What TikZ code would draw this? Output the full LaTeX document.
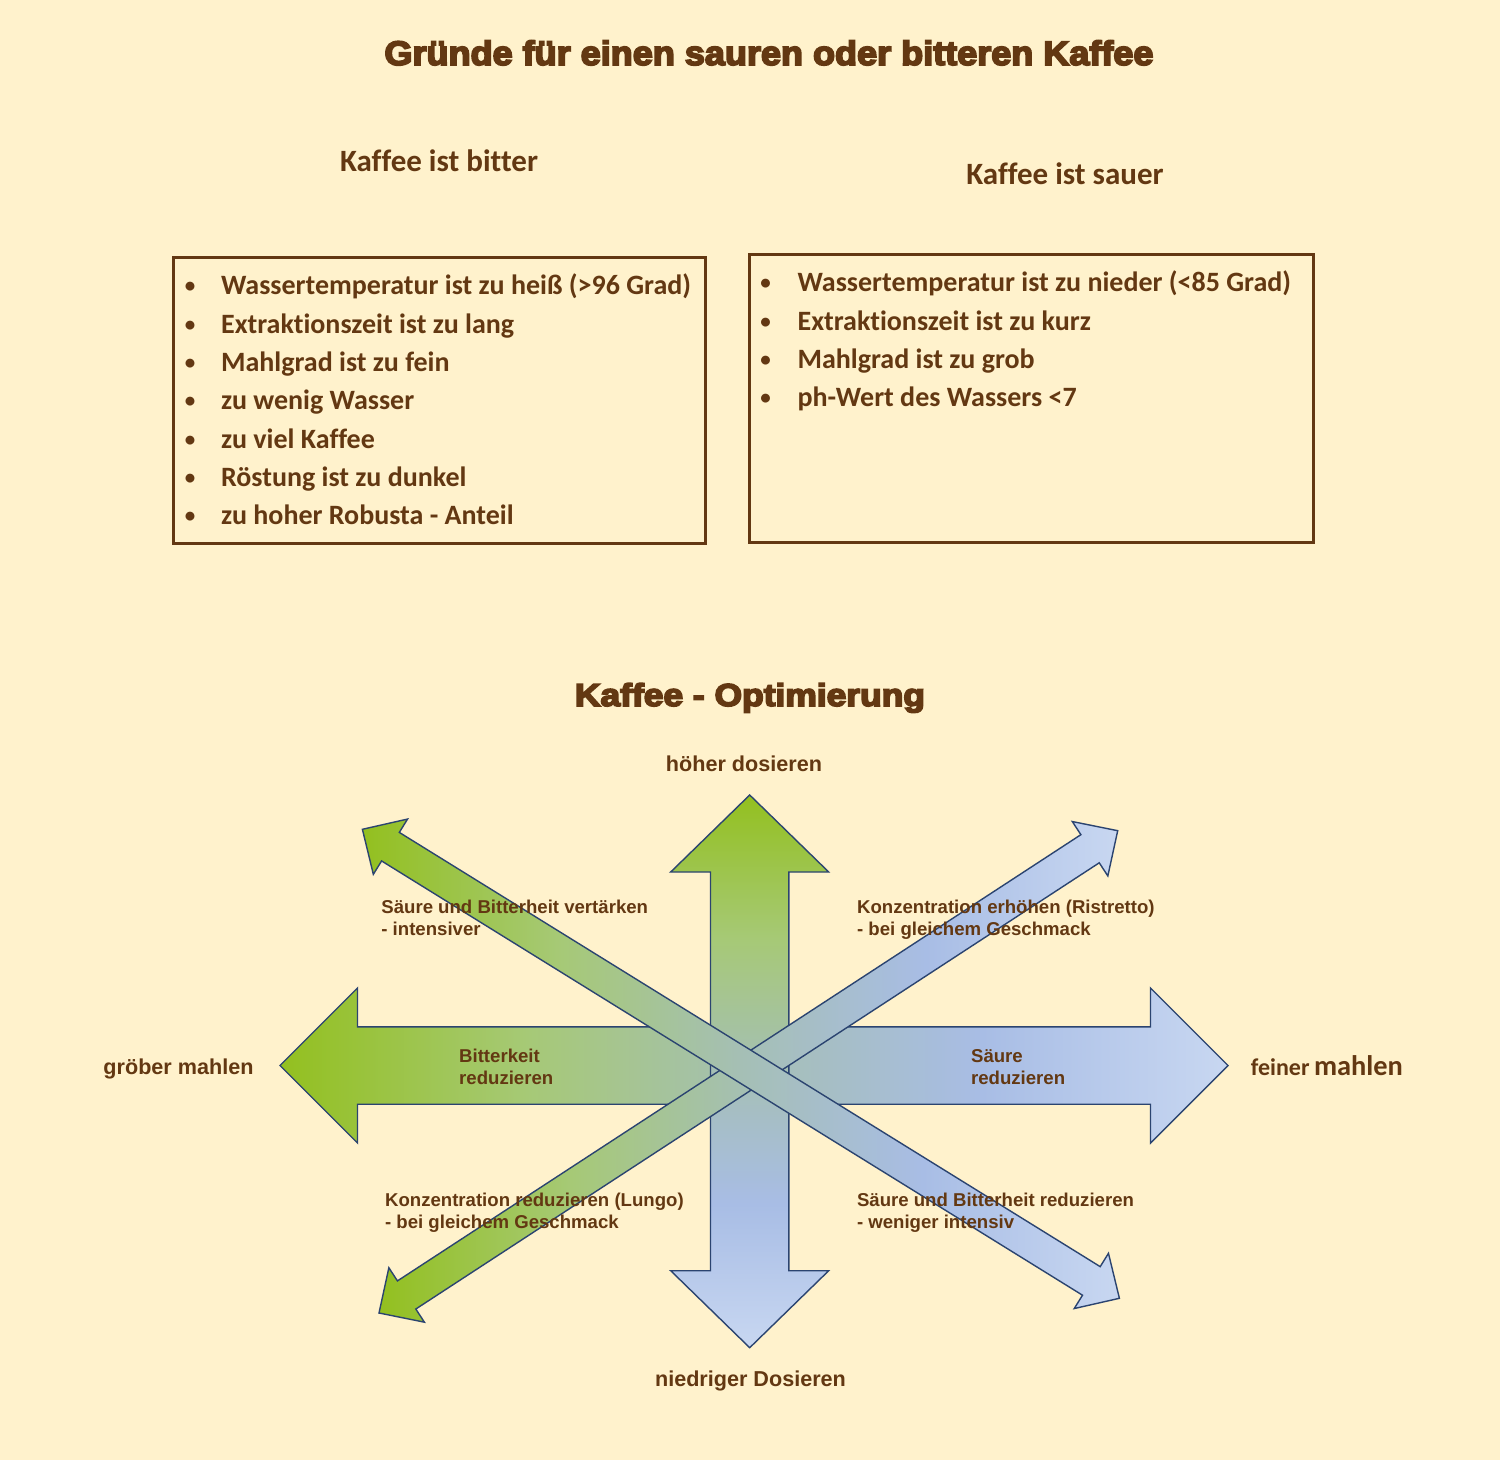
\documentclass[tikz,border=0pt]{standalone}
\usepackage{fontspec}
\setmainfont{Liberation Sans}
\newfontfamily\carl{Carlito}[Ligatures=NoCommon]
\newfontfamily\heavy{Liberation Sans}[BoldFeatures={FakeBold=5}]
\usetikzlibrary{calc}
\definecolor{bg}{HTML}{FFF2CC}
\definecolor{brn}{RGB}{99,56,18}
\definecolor{gA}{HTML}{93C01F}
\definecolor{gB}{HTML}{A6C976}
\definecolor{midc}{HTML}{A5BFB5}
\definecolor{bA}{HTML}{A8BDE5}
\definecolor{bB}{HTML}{C8D7F1}
\definecolor{edgec}{HTML}{2B4470}
\pgfdeclarehorizontalshading{hgrad}{100bp}{color(0bp)=(gA); color(25bp)=(gA); color(38bp)=(gB); color(50bp)=(midc); color(62bp)=(bA); color(75bp)=(bB); color(100bp)=(bB)}
\pgfdeclareverticalshading{vgrad}{100bp}{color(0bp)=(bB); color(25bp)=(bB); color(38bp)=(bA); color(50bp)=(midc); color(62bp)=(gB); color(75bp)=(gA); color(100bp)=(gA)}
% #1 tip A, #2 tip B, #3 head length, #4 head half width, #5 shaft half width, #6 shading
\newcommand{\dblarrow}[6]{%
  \path coordinate (a1) at ($(#1)!#3!(#2)$) coordinate (b1) at ($(#2)!#3!(#1)$);
  \path[arrowshape, shading=#6] (#1) -- ($(a1)!#4!90:(#2)$) -- ($(a1)!#5!90:(#2)$)
    -- ($(b1)!#5!-90:(#1)$) -- ($(b1)!#4!-90:(#1)$) -- (#2)
    -- ($(b1)!#4!90:(#1)$) -- ($(b1)!#5!90:(#1)$)
    -- ($(a1)!#5!-90:(#2)$) -- ($(a1)!#4!-90:(#2)$) -- cycle;}
\newcommand{\twol}[2]{\begin{tabular}[t]{@{}l@{}}#1\\#2\end{tabular}}
\begin{document}
\begin{tikzpicture}[x=0.5pt,y=-0.5pt,
  txt/.style={text=brn, inner sep=0pt},
  ttl/.style={txt, font=\heavy\bfseries\fontsize{17}{20}\selectfont},
  hd/.style={txt, font=\carl\bfseries\fontsize{15.5}{18}\selectfont},
  item/.style={txt, anchor=base west, font=\carl\bfseries\fontsize{14}{17}\selectfont},
  bul/.style={txt, anchor=base, font=\carl\bfseries\fontsize{10.5}{12}\selectfont},
  boxst/.style={draw=brn, line width=1.5pt, inner sep=0pt},
  lab/.style={txt, anchor=base west, font=\bfseries\fontsize{9.3}{11}\selectfont},
  dirl/.style={txt, anchor=base, font=\bfseries\fontsize{10.8}{13}\selectfont},
  arrowshape/.style={shade, draw=edgec, line width=0.7pt, line join=miter}]
\fill[bg] (0,0) rectangle (1500,1460);
\useasboundingbox (0,0) rectangle (1500,1460);

% titles
\node[ttl, anchor=base] (title) at (769,65) {\scalebox{1.06}[1]{Gründe für einen sauren oder bitteren Kaffee}};
\node[hd, anchor=base] (hbit) at (439,171.7) {Kaffee ist bitter};
\node[hd, anchor=base] (hsau) at (1065,185) {Kaffee ist sauer};

% boxes
\node[boxst, minimum width=265.9pt, minimum height=142.8pt] (boxL) at (439.5,400.5) {};
\node[boxst, minimum width=282.15pt, minimum height=143.65pt] (boxR) at (1031.55,398.65) {};

\foreach \t [count=\i from 0] in {Wassertemperatur ist zu heiß (>96 Grad),Extraktionszeit ist zu lang,Mahlgrad ist zu fein,zu wenig Wasser,zu viel Kaffee,Röstung ist zu dunkel,zu hoher Robusta - Anteil}{
  \node[bul] (bl\i) at (190,293+38.33*\i) {•};
  \node[item] (il\i) at (220.7,295+38.33*\i) {\t};
}
\foreach \t [count=\i from 0] in {Wassertemperatur ist zu nieder (<85 Grad),Extraktionszeit ist zu kurz,Mahlgrad ist zu grob,ph-Wert des Wassers <7}{
  \node[bul] (br\i) at (765.6,290+38.33*\i) {•};
  \node[item] (ir\i) at (797.2,292+38.33*\i) {\t};
}

% optimisation title
\node[ttl, anchor=base, font=\heavy\bfseries\fontsize{15.8}{18}\selectfont] (opt) at (750,706) {\scalebox{1.12}[1]{Kaffee - Optimierung}};

% arrows
\coordinate (Hl) at (280,1065.5);
\coordinate (Hr) at (1228,1065.5);
\coordinate (Vt) at (749.7,795);
\coordinate (Vb) at (749.7,1347.7);
\coordinate (D1a) at (362.4,829.3);
\coordinate (D1b) at (1119.4,1298.3);
\coordinate (D2a) at (379,1313);
\coordinate (D2b) at (1117.7,830.7);

\dblarrow{Hl}{Hr}{38.75pt}{38.75pt}{19.35pt}{hgrad}
\dblarrow{Vt}{Vb}{38.5pt}{39.5pt}{19.6pt}{vgrad}
\dblarrow{D2a}{D2b}{16.5pt}{16.25pt}{8.4pt}{hgrad}
\dblarrow{D1a}{D1b}{16.5pt}{16.25pt}{8.4pt}{hgrad}

% arrow labels
\node[lab] (l1) at (381,913) {\twol{Säure und Bitterheit vertärken}{- intensiver}};
\node[lab] (l2) at (856.7,913) {\twol{Konzentration erhöhen (Ristretto)}{- bei gleichem Geschmack}};
\node[lab] (l3) at (458.8,1062) {\twol{Bitterkeit}{reduzieren}};
\node[lab] (l4) at (970.7,1062) {\twol{Säure}{reduzieren}};
\node[lab] (l5) at (384.7,1206) {\twol{Konzentration reduzieren (Lungo)}{- bei gleichem Geschmack}};
\node[lab] (l6) at (856.6,1206) {\twol{Säure und Bitterheit reduzieren}{- weniger intensiv}};

% direction labels
\node[dirl] (up) at (744,771.7) {höher dosieren};
\node[dirl] (down) at (750.5,1386) {niedriger Dosieren};
\node[dirl] (left) at (178.5,1074) {gröber mahlen};
\node[txt, anchor=base west, font=\carl\bfseries] (right) at (1250.5,1075) {{\fontsize{12}{14}\selectfont feiner} {\fontsize{14.2}{16}\selectfont mahlen}};
\end{tikzpicture}
\end{document}
